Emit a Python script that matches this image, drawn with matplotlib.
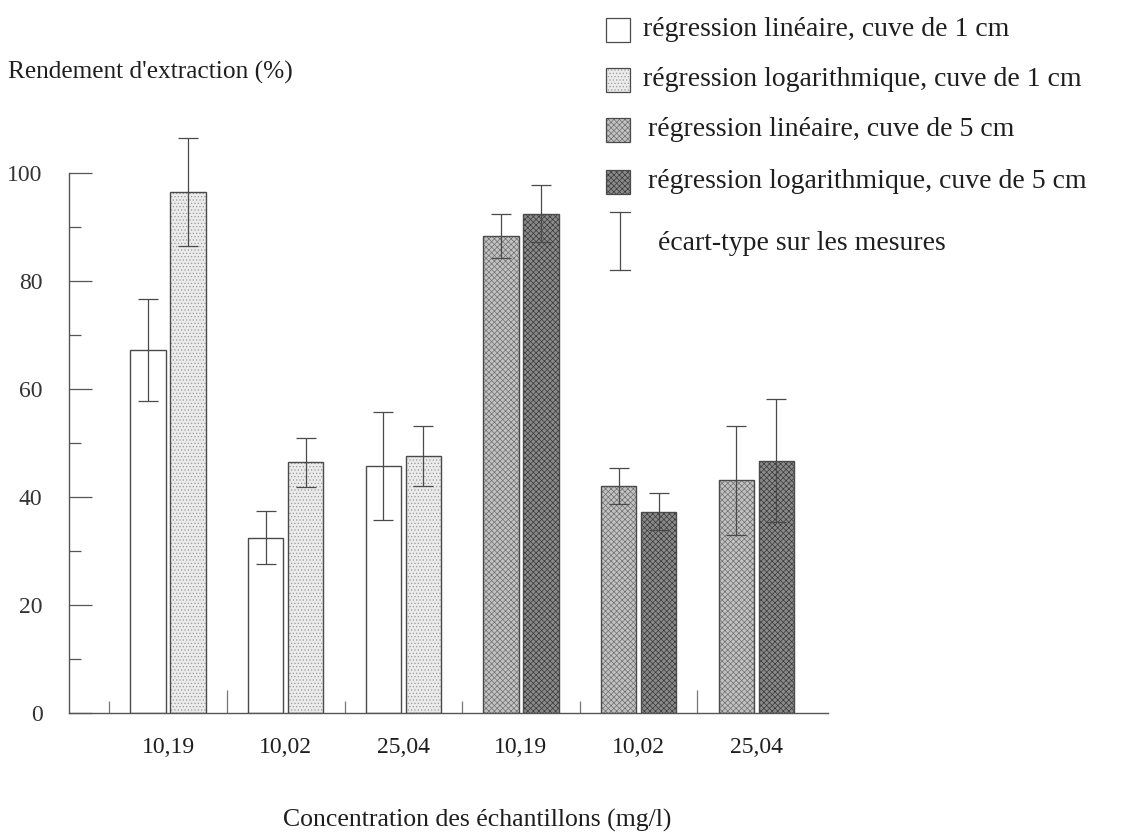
import numpy as np
import matplotlib
matplotlib.use("Agg")
import matplotlib.pyplot as plt
from matplotlib.patches import Rectangle
from matplotlib.lines import Line2D

plt.rcParams['font.family'] = ['Liberation Serif', 'DejaVu Serif']
plt.rcParams['hatch.linewidth'] = 0.5

# Données
categories = ['10,19', '10,02', '25,04', '10,19', '10,02', '25,04']
# premiers trois groupes : cuve de 1 cm, trois suivants : cuve de 5 cm
lin_values = [67.2, 32.5, 45.8, 88.3, 42.0, 43.1]
lin_errors = [9.4, 4.9, 10.0, 4.1, 3.3, 10.1]
log_values = [96.5, 46.4, 47.6, 92.5, 37.3, 46.7]
log_errors = [10.0, 4.6, 5.6, 5.3, 3.4, 11.4]
cuve = ['1 cm', '1 cm', '1 cm', '5 cm', '5 cm', '5 cm']

legend_labels = [
    "régression linéaire, cuve de 1 cm",
    "régression logarithmique, cuve de 1 cm",
    "régression linéaire, cuve de 5 cm",
    "régression logarithmique, cuve de 5 cm",
    "écart-type sur les mesures",
]

# Styles (face, hachure, couleur de hachure)
styles = {
    ('lin', '1 cm'): dict(facecolor='white', hatch=None, hc='#808080'),
    ('log', '1 cm'): dict(facecolor='#ebebeb', hatch='.....', hc='#9a9a9a'),
    ('lin', '5 cm'): dict(facecolor='#c2c2c2', hatch='xxxxxx', hc='#707070'),
    ('log', '5 cm'): dict(facecolor='#8a8a8a', hatch='xxxxxx', hc='#3a3a3a'),
}
edge = '#4a4a4a'
err_col = '#4a4a4a'
txt_col = '#1e1e1e'

W, H = 1126, 836
fig = plt.figure(figsize=(W / 100, H / 100), dpi=100)
fig.patch.set_facecolor('white')

# axes placé en pixels : gauche 69, droite 828, bas 713, haut 119
ax = fig.add_axes([69 / W, (H - 713) / H, (828 - 69) / W, (713 - 119) / H])

x = np.arange(len(categories))
bw = 0.30
off = 0.17

for kind, vals, errs, sgn in [('lin', lin_values, lin_errors, -1),
                               ('log', log_values, log_errors, 1)]:
    for i in range(len(categories)):
        st = styles[(kind, cuve[i])]
        ax.bar(x[i] + sgn * off, vals[i], width=bw, facecolor=st['facecolor'],
               edgecolor=st['hc'], hatch=st['hatch'], linewidth=0, zorder=2)
        ax.bar(x[i] + sgn * off, vals[i], width=bw, facecolor='none',
               edgecolor=edge, linewidth=1.0, zorder=3)
    ax.errorbar(x + sgn * off, vals, yerr=errs, fmt='none', ecolor=err_col,
                elinewidth=0.9, capsize=7, capthick=0.9, zorder=4)

ax.set_xlim(-0.842, 5.61)
ax.set_ylim(0, 110)

for s in ['top', 'right']:
    ax.spines[s].set_visible(False)
for s in ['left', 'bottom']:
    ax.spines[s].set_color('#555555')
    ax.spines[s].set_linewidth(1.0)
ax.spines['left'].set_bounds(0, 100)

ax.set_yticks(np.arange(0, 101, 20))
ax.set_yticks(np.arange(10, 100, 20), minor=True)
ax.tick_params(axis='y', which='major', direction='in', length=16.5, width=0.9,
               color='#555555', pad=19, labelsize=17, labelcolor='#333333')
ax.tick_params(axis='y', which='minor', direction='in', length=8.5, width=0.9,
               color='#555555')

ax.set_xticks(x)
ax.set_xticklabels(categories)
ax.set_xticks(x - 0.5, minor=True)
ax.tick_params(axis='x', which='major', length=0, pad=17, labelsize=17,
               labelcolor=txt_col)
ax.tick_params(axis='x', which='minor', direction='in', length=9, width=0.9,
               color='#777777')
for i, t in enumerate(ax.xaxis.get_minor_ticks()):
    if i in (1, 5):
        t.tick1line.set_markersize(16.5)

# calque en pixels pour les textes et la légende
ov = fig.add_axes([0, 0, 1, 1], zorder=5)
ov.set_xlim(0, W)
ov.set_ylim(H, 0)
ov.axis('off')
ov.patch.set_alpha(0)

ov.text(8, 72, "Rendement d'extraction (%)", fontsize=18.3, color=txt_col,
        ha='left', va='center')
ov.text(477, 820, "Concentration des échantillons (mg/l)", fontsize=18.5,
        color=txt_col, ha='center', va='center')

# légende
leg_rows = [30, 80, 130, 182]
leg_keys = [('lin', '1 cm'), ('log', '1 cm'), ('lin', '5 cm'), ('log', '5 cm')]
text_x = [643, 643, 648, 648]
for yc, key, lab, tx in zip(leg_rows, leg_keys, legend_labels[:4], text_x):
    st = styles[key]
    ov.add_patch(Rectangle((606, yc - 12), 24, 24, facecolor=st['facecolor'],
                           hatch=st['hatch'], edgecolor=st['hc'], linewidth=0))
    ov.add_patch(Rectangle((606, yc - 12), 24, 24, facecolor='none',
                           edgecolor=edge, linewidth=0.9))
    ov.text(tx, yc, lab, fontsize=20, color=txt_col, ha='left', va='center')

ov.add_line(Line2D([620, 620], [212, 270], color=err_col, lw=0.9))
ov.add_line(Line2D([610, 630], [212, 212], color=err_col, lw=0.9))
ov.add_line(Line2D([610, 630], [270, 270], color=err_col, lw=0.9))
ov.text(658, 243, legend_labels[4], fontsize=20, color=txt_col,
        ha='left', va='center')

fig.savefig('out.png', dpi=100)
